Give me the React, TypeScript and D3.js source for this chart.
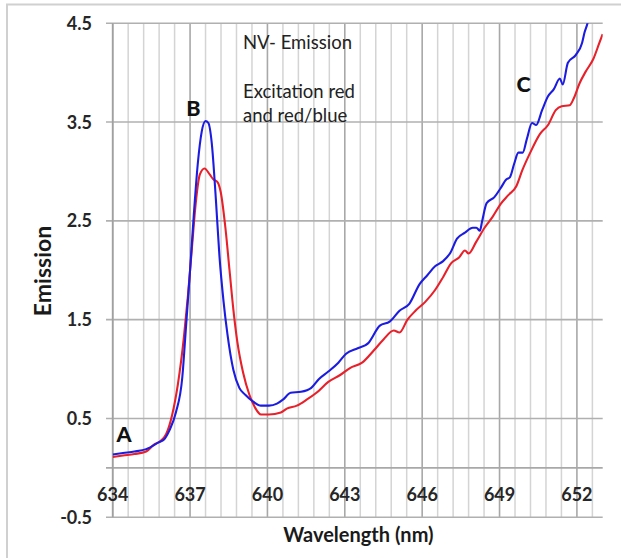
import React from "react";
import * as d3 from "d3";

const blueX = [634.0,634.4,634.84,635.3,635.76,636.0,636.2,636.45,636.7,636.84,637.0,637.15,637.3,637.45,637.6,637.71,637.84,638.0,638.14,638.3,638.45,638.68,638.91,639.14,639.45,639.75,640.06,640.37,640.6,640.9,641.3,641.7,642.0,642.36,642.75,643.05,643.5,643.9,644.36,644.74,645.12,645.5,645.9,646.2,646.5,646.8,647.1,647.35,647.66,647.96,648.1,648.24,648.32,648.5,648.8,649.04,649.27,649.4,649.57,649.73,649.9,650.06,650.26,650.42,650.65,650.88,651.1,651.34,651.45,651.65,651.96,652.2,652.3,652.41,652.55];
const blueY = [0.135,0.15,0.165,0.19,0.255,0.29,0.38,0.56,0.92,1.42,2.0,2.58,3.08,3.40,3.51,3.49,3.29,2.72,2.14,1.68,1.35,0.99,0.81,0.74,0.67,0.63,0.63,0.65,0.69,0.76,0.77,0.81,0.90,0.975,1.065,1.155,1.21,1.26,1.44,1.48,1.59,1.66,1.86,1.95,2.04,2.09,2.18,2.32,2.38,2.43,2.43,2.40,2.49,2.68,2.74,2.83,2.92,2.94,3.08,3.19,3.19,3.33,3.49,3.47,3.62,3.76,3.83,3.94,3.88,4.10,4.18,4.30,4.41,4.5,4.72];

const redX = [634.0,634.4,634.84,635.3,635.6,635.84,636.07,636.3,636.53,636.76,636.92,637.07,637.22,637.38,637.56,637.76,637.9,638.07,638.19,638.37,638.53,638.68,638.83,639.06,639.3,639.52,639.75,640.06,640.52,640.75,641.14,641.52,641.9,642.36,642.82,643.2,643.67,644.13,644.5,644.9,645.12,645.43,645.74,646.12,646.5,646.81,647.12,647.43,647.66,647.8,648.1,648.42,648.73,649.04,649.34,649.65,649.88,650.19,650.57,650.88,651.18,651.41,651.72,651.88,652.1,652.34,652.64,652.87,653.0];
const redY = [0.11,0.125,0.14,0.165,0.235,0.27,0.34,0.53,0.85,1.32,1.75,2.22,2.68,2.97,3.03,2.97,2.92,2.89,2.79,2.43,2.0,1.6,1.28,0.96,0.74,0.61,0.54,0.54,0.56,0.60,0.63,0.69,0.76,0.87,0.94,1.01,1.065,1.19,1.30,1.39,1.37,1.50,1.59,1.68,1.80,1.93,2.07,2.13,2.20,2.17,2.29,2.43,2.54,2.67,2.76,2.85,3.01,3.19,3.38,3.47,3.62,3.66,3.67,3.74,3.89,4.01,4.14,4.30,4.39];

const xTickLabels = [634, 637, 640, 643, 646, 649, 652];
const yTickLabels = [-0.5, 0.5, 1.5, 2.5, 3.5, 4.5];
const xMinorGridStep = 0.6;
const notes = ["NV- Emission", "Excitation red", "and red/blue"];
const markers = [
  { label: "A", x: 634.15, y: 0.262 },
  { label: "B", x: 636.85, y: 3.56 },
  { label: "C", x: 649.66, y: 3.807 },
];

export default function App() {
  const W = 621, H = 558;
  const x = d3.scaleLinear().domain([634, 653]).range([112.7, 602.7]);
  const y = d3.scaleLinear().domain([-0.5, 4.5]).range([517.3, 23.2]);
  const gridX = d3.range(0, 32).map((i) => ({ v: 634 + i * xMinorGridStep, major: i % 5 === 0 }));
  const line = d3
    .line<[number, number]>()
    .x((d) => x(d[0]))
    .y((d) => y(d[1]))
    .curve(d3.curveMonotoneX);
  const blue = line(blueX.map((v, i) => [v, blueY[i]] as [number, number])) || "";
  const red = line(redX.map((v, i) => [v, redY[i]] as [number, number])) || "";
  const font = "Lato, 'Open Sans', sans-serif";
  const x0 = x(634), x1 = x(653);
  return (
    <svg width={W} height={H} style={{ position: "absolute", left: 0, top: 0, background: "#fff" }}>
      <defs>
        <clipPath id="plot">
          <rect x={x0} y={y(4.5)} width={x1 - x0} height={y(-0.5) - y(4.5)} />
        </clipPath>
      </defs>
      <rect x={7} y={4.5} width={700} height={700} fill="none" stroke="#d0d0d0" strokeWidth={2} />
      {gridX.map((g, i) => (
        <line key={"gx" + i} x1={x(g.v)} x2={x(g.v)} y1={y(4.5)} y2={y(-0.5)}
          stroke={g.major ? "#a8a8a8" : "#d4d4d4"} strokeWidth={g.major ? 1.6 : 1.5} />
      ))}
      {yTickLabels.map((v) => (
        <line key={"gy" + v} x1={106} x2={x1} y1={y(v)} y2={y(v)} stroke="#b0b0b0" strokeWidth={1.6} />
      ))}
      <line x1={106} x2={x1} y1={y(0)} y2={y(0)} stroke="#a8a8a8" strokeWidth={1.6} />
      <line x1={x0} x2={x0} y1={y(4.5)} y2={y(-0.5)} stroke="#a0a0a0" strokeWidth={1.6} />
      <g clipPath="url(#plot)">
        <path d={red} fill="none" stroke="#e8202a" strokeWidth={2.1} />
        <path d={blue} fill="none" stroke="#1c1ce0" strokeWidth={2.1} />
      </g>
      {yTickLabels.map((v) => (
        <text key={"yl" + v} x={92} y={y(v)} dy="0.36em" textAnchor="end"
          fontFamily={font} fontWeight="bold" fontSize={18} fill="#262626">{v.toFixed(1)}</text>
      ))}
      {xTickLabels.map((v) => (
        <text key={"xl" + v} x={x(v)} y={500.5} textAnchor="middle"
          fontFamily={font} fontWeight="bold" fontSize={18} fill="#262626">{v}</text>
      ))}
      <text transform={`translate(51,271) rotate(-90)`} textAnchor="middle"
        fontFamily={font} fontWeight="bold" fontSize={23} fill="#1a1a1a">Emission</text>
      <text x={358.4} y={541.7} textAnchor="middle"
        fontFamily={font} fontWeight="bold" fontSize={20} fill="#1a1a1a">Wavelength (nm)</text>
      <text x={243} y={48.5} fontFamily={font} fontSize={18.5} fill="#222">{notes[0]}</text>
      <text x={243} y={97.7} fontFamily={font} fontSize={18.5} fill="#222">{notes[1]}</text>
      <text x={243} y={121.7} fontFamily={font} fontSize={18.5} fill="#222">{notes[2]}</text>
      {markers.map((m) => (
        <text key={m.label} x={x(m.x)} y={y(m.y)} fontFamily={font} fontWeight="900"
          fontSize={21.5} fill="#111">{m.label}</text>
      ))}
    </svg>
  );
}
